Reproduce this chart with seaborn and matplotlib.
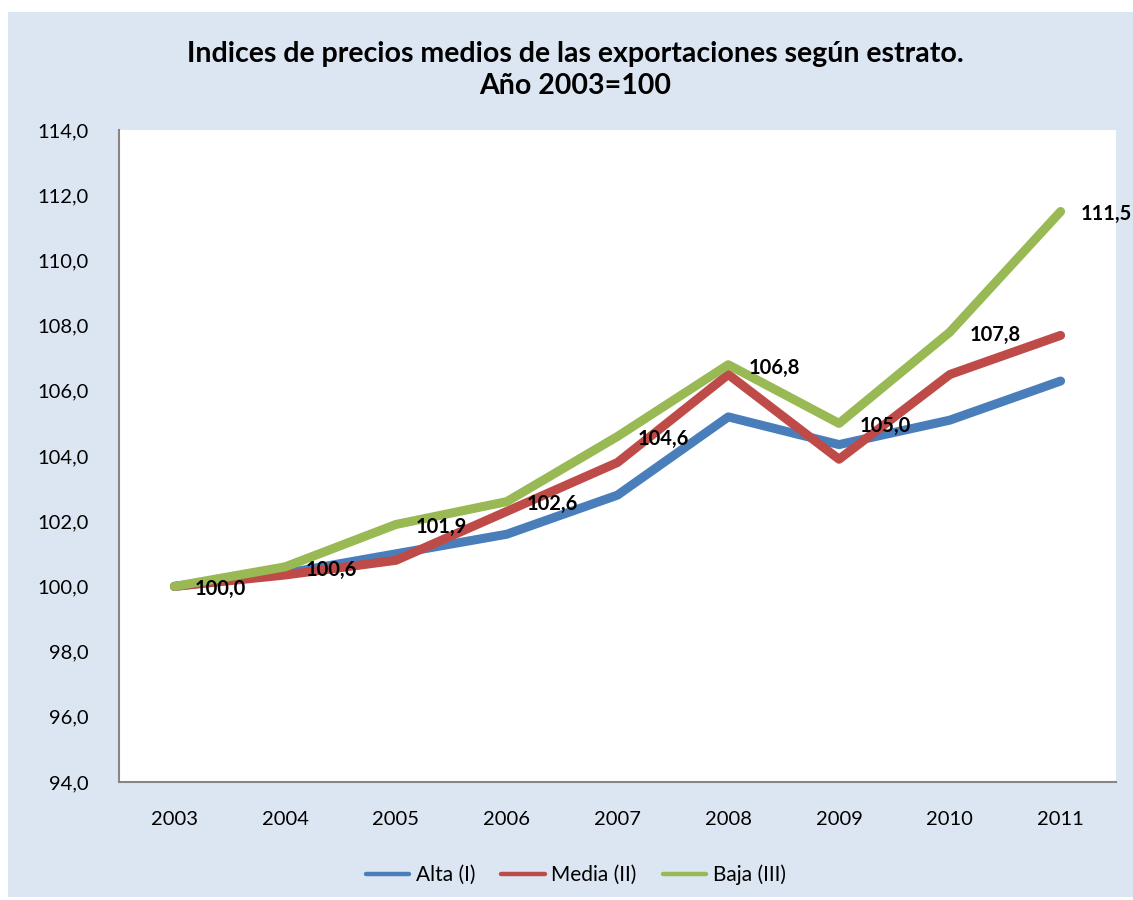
import matplotlib
matplotlib.use("Agg")
import matplotlib.pyplot as plt
import numpy as np
import pandas as pd
import seaborn as sns
from matplotlib.patches import Rectangle

# Data
years = ['2003', '2004', '2005', '2006', '2007', '2008', '2009', '2010', '2011']
alta = [100.0, 100.4, 101.0, 101.6, 102.8, 105.2, 104.35, 105.1, 106.3]
media = [100.0, 100.35, 100.8, 102.3, 103.8, 106.5, 103.9, 106.5, 107.7]
baja = [100.0, 100.6, 101.9, 102.6, 104.6, 106.8, 105.0, 107.8, 111.5]
series_names = ['Alta (I)', 'Media (II)', 'Baja (III)']
colors = ['#4A7EBB', '#BE4B48', '#98B954']

df = pd.DataFrame({'year': years * 3,
                   'valor': alta + media + baja,
                   'estrato': [n for n in series_names for _ in years]})
df['x'] = df['year'].map({y: i for i, y in enumerate(years)})

sns.set_style('white')
plt.rcParams['font.family'] = ['Lato', 'DejaVu Sans']

fig = plt.figure(figsize=(11.33, 9), dpi=100)
fig.patch.set_facecolor('white')
fig.patches.append(Rectangle((8 / 1133, 3 / 900), 1.0, 885 / 900,
                             transform=fig.transFigure, facecolor='#DCE6F2',
                             edgecolor='none', zorder=-10))

ax = fig.add_axes([119 / 1133, 1 - 782 / 900, 997 / 1133, 652 / 900])
ax.set_zorder(1)
ax.set_facecolor('white')

sns.lineplot(data=df, x='x', y='valor', hue='estrato', palette=colors,
             linewidth=6.5, ax=ax, legend=False, solid_capstyle='round')

# data labels (Baja series)
for i, v in enumerate(baja):
    ax.annotate(f'{v:.1f}'.replace('.', ','), (i, v), xytext=(14.5, -2),
                textcoords='offset points', ha='left', va='center',
                fontsize=14.5, fontweight='bold', color='black',
                annotation_clip=False)

ax.set_xlim(-0.5, len(years) - 0.5)
ax.set_ylim(94, 114)
ax.set_xticks(range(len(years)))
ax.set_xticklabels(years)
yt = np.arange(94, 115, 2)
ax.set_yticks(yt)
ax.set_yticklabels([f'{v:.1f}'.replace('.', ',') for v in yt])
ax.tick_params(axis='both', labelsize=14.5, length=0, colors='black')
ax.tick_params(axis='y', pad=22)
ax.tick_params(axis='x', pad=21)
ax.set_xlabel('')
ax.set_ylabel('')
for s in ['top', 'right']:
    ax.spines[s].set_visible(False)
for s in ['left', 'bottom']:
    ax.spines[s].set_color('#868686')
    ax.spines[s].set_linewidth(1.5)

fig.text(0.508, 1 - 70 / 900,
         'Indices de precios medios de las exportaciones según estrato.\nAño 2003=100',
         ha='center', va='center', fontsize=20.5, fontweight='bold',
         linespacing=1.3, color='black')

handles = [plt.Line2D([], [], color=c, linewidth=3.2) for c in colors]
fig.legend(handles, series_names, loc='center', bbox_to_anchor=(0.508, 1 - 875 / 900),
           ncol=3, frameon=False, fontsize=15, handlelength=2.1,
           handletextpad=0.3, columnspacing=1.25, labelcolor='black')

fig.savefig('out.png', dpi=100)
